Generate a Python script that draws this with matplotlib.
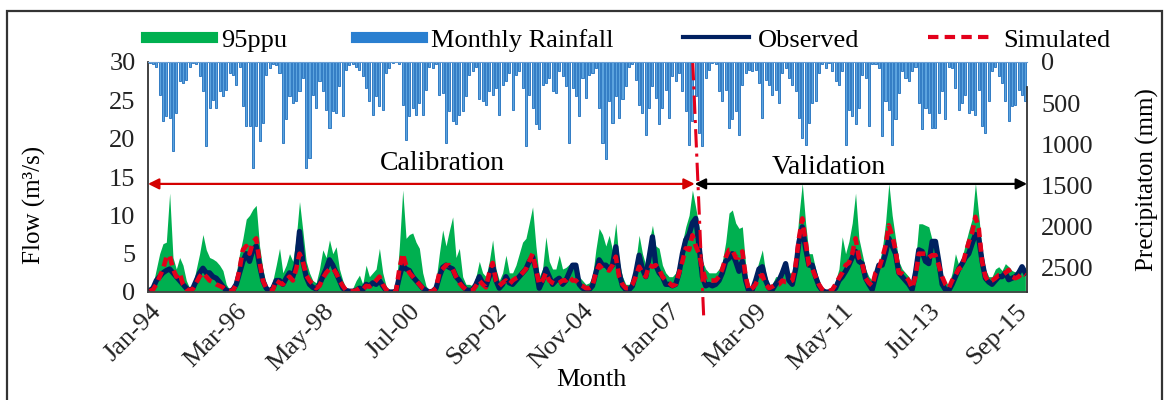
import numpy as np
import matplotlib.pyplot as plt
from matplotlib.lines import Line2D
from matplotlib.patches import Rectangle

plt.rcParams['font.family'] = ['Liberation Serif', 'DejaVu Serif']

# monthly rainfall (mm), Jan-1994 .. Dec-2015, one row per year
rain = [
    10, 20, 55, 400, 720, 660, 680, 1080, 620, 235, 255, 215,
    55, 15, 20, 175, 355, 1020, 560, 460, 560, 355, 420, 335,
    135, 155, 275, 55, 540, 780, 780, 1290, 780, 965, 740, 155,
    75, 30, 35, 135, 985, 700, 420, 500, 480, 355, 195, 1290,
    1165, 400, 560, 235, 355, 580, 800, 600, 620, 295, 660, 95,
    35, 20, 55, 100, 175, 315, 480, 640, 415, 540, 580, 135,
    75, 12, 5, 30, 520, 945, 660, 560, 640, 500, 640, 335,
    55, 75, 30, 400, 375, 985, 600, 720, 760, 640, 600, 415,
    155, 115, 55, 455, 480, 520, 355, 400, 315, 640, 275, 235,
    135, 580, 155, 115, 315, 1025, 400, 560, 760, 820, 275, 255,
    195, 355, 375, 115, 175, 295, 985, 315, 415, 660, 195, 435,
    155, 135, 75, 560, 985, 1185, 480, 740, 415, 680, 455, 295,
    55, 30, 215, 520, 620, 885, 560, 295, 435, 760, 560, 335,
    680, 175, 235, 135, 355, 600, 1005, 720, 415, 860, 1025, 195,
    95, 12, 30, 355, 480, 335, 800, 700, 600, 885, 275, 135,
    95, 115, 95, 255, 680, 215, 275, 400, 335, 500, 135, 75,
    195, 275, 355, 680, 920, 1005, 740, 500, 480, 135, 30, 75,
    12, 115, 235, 275, 115, 1005, 580, 660, 760, 560, 155, 195,
    780, 30, 30, 75, 905, 480, 580, 1005, 700, 375, 115, 195,
    235, 115, 55, 500, 820, 560, 620, 800, 800, 620, 355, 700,
    55, 75, 315, 580, 500, 400, 620, 580, 640, 335, 780, 860,
    480, 115, 55, 175, 255, 480, 720, 540, 520, 335, 400, 480,
]

# observed discharge (m3/s)
observed = [
    0.2, 0.5, 1.5, 2.0, 2.5, 2.8, 3.0, 2.5, 2.0, 1.5, 1.0, 0.5,
    0.2, 0.5, 1.5, 2.5, 3.1, 2.5, 2.5, 2.0, 1.8, 1.3, 0.7, 0.2,
    0.1, 0.3, 1.0, 2.5, 4.0, 5.0, 4.0, 5.5, 6.0, 3.5, 1.5, 0.5,
    0.1, 0.5, 1.5, 1.5, 1.0, 1.8, 2.5, 2.0, 3.5, 7.9, 4.0, 2.0,
    1.0, 0.6, 0.4, 1.0, 2.0, 3.0, 4.2, 3.5, 2.5, 1.5, 0.5, 0.2,
    0.1, 0.1, 0.2, 0.5, 0.3, 1.0, 0.8, 1.2, 1.0, 1.5, 0.8, 0.2,
    0.0, 0.0, 0.1, 2.0, 3.5, 3.0, 2.8, 2.0, 1.5, 1.0, 0.5, 0.2,
    0.0, 0.1, 0.5, 2.0, 3.2, 3.5, 3.2, 3.0, 2.0, 1.5, 0.8, 0.3,
    0.2, 0.3, 1.0, 2.0, 1.2, 0.8, 2.0, 3.5, 1.5, 0.5, 1.0, 2.0,
    1.2, 1.0, 1.5, 2.0, 2.5, 3.0, 4.0, 4.6, 3.0, 0.5, 1.5, 3.0,
    2.0, 1.0, 1.5, 1.8, 1.0, 1.5, 2.5, 3.5, 3.5, 1.0, 0.5, 0.3,
    0.3, 0.8, 2.5, 4.2, 3.5, 3.5, 3.0, 3.5, 5.9, 2.5, 0.8, 0.3,
    0.3, 0.8, 2.5, 4.8, 3.0, 2.0, 4.5, 7.2, 3.5, 2.5, 2.0, 1.0,
    1.0, 0.8, 1.0, 2.5, 5.0, 6.8, 7.5, 9.0, 9.6, 6.0, 2.0, 0.8,
    1.0, 0.8, 1.0, 1.5, 2.5, 4.0, 4.4, 5.0, 4.0, 2.7, 4.0, 1.5,
    0.0, 0.3, 1.5, 3.0, 3.3, 1.5, 0.5, 0.3, 1.0, 1.5, 2.5, 3.7,
    1.5, 1.0, 3.0, 6.5, 8.5, 5.7, 3.5, 3.5, 2.0, 0.8, 0.2, 0.0,
    0.0, 0.2, 0.5, 1.5, 2.0, 2.7, 3.5, 4.5, 5.3, 4.0, 3.7, 1.8,
    1.0, 0.3, 2.0, 3.5, 3.5, 5.0, 7.0, 6.0, 5.0, 2.5, 2.0, 1.5,
    1.0, 0.3, 2.5, 5.5, 5.3, 4.0, 3.7, 6.6, 6.6, 4.0, 1.0, 0.3,
    0.2, 1.0, 2.0, 3.0, 3.7, 4.5, 5.0, 6.3, 7.5, 7.0, 4.0, 1.8,
    1.3, 1.0, 1.5, 2.0, 2.0, 2.5, 1.6, 1.8, 2.0, 2.5, 3.3, 2.5,
]

# simulated discharge (m3/s)
simulated = [
    0.1, 0.3, 1.0, 2.0, 3.0, 4.5, 4.8, 3.0, 2.0, 2.5, 1.0, 0.4,
    0.2, 0.4, 1.2, 2.0, 2.5, 2.0, 1.5, 1.3, 1.0, 0.8, 0.6, 0.2,
    0.1, 0.2, 1.0, 3.0, 5.5, 6.0, 5.0, 6.5, 7.0, 4.0, 1.5, 0.5,
    0.1, 0.3, 1.5, 1.2, 1.0, 1.5, 2.0, 1.5, 3.0, 5.0, 4.0, 2.2,
    1.5, 1.0, 0.5, 0.8, 1.8, 2.5, 3.0, 3.1, 2.5, 1.5, 0.8, 0.2,
    0.1, 0.1, 0.2, 0.5, 0.3, 0.8, 0.7, 1.0, 1.5, 2.0, 1.0, 0.3,
    0.0, 0.0, 0.1, 3.0, 5.0, 3.5, 2.5, 2.0, 1.5, 1.0, 0.5, 0.2,
    0.0, 0.1, 0.5, 2.5, 3.0, 3.5, 3.5, 3.0, 2.0, 1.2, 0.7, 0.3,
    0.2, 0.2, 0.8, 1.5, 1.0, 0.6, 2.5, 3.8, 1.5, 0.8, 1.2, 1.5,
    1.0, 1.5, 1.8, 2.0, 2.5, 3.0, 4.0, 5.0, 3.0, 1.0, 1.5, 2.5,
    1.5, 1.2, 1.0, 1.2, 1.5, 1.5, 2.0, 1.5, 1.5, 1.0, 0.8, 0.5,
    0.5, 0.8, 2.5, 3.5, 3.0, 3.0, 2.8, 3.5, 4.6, 2.0, 1.0, 0.5,
    0.5, 1.0, 2.0, 3.3, 2.5, 2.0, 3.5, 3.3, 3.5, 3.0, 2.0, 1.5,
    1.2, 0.8, 1.0, 2.5, 4.0, 5.7, 5.5, 7.4, 6.0, 5.0, 3.0, 1.5,
    1.5, 1.5, 1.5, 2.0, 3.0, 4.5, 5.5, 5.5, 4.5, 4.5, 5.3, 2.0,
    0.2, 0.5, 1.0, 2.0, 2.2, 1.0, 0.5, 0.7, 1.0, 1.0, 1.5, 1.3,
    1.3, 1.5, 3.5, 7.0, 9.6, 6.5, 3.5, 3.0, 2.0, 1.0, 0.3, 0.1,
    0.1, 0.3, 1.0, 1.8, 2.5, 3.5, 3.8, 5.0, 7.0, 4.5, 3.7, 1.8,
    1.2, 0.8, 2.5, 3.0, 4.4, 6.0, 8.7, 7.4, 5.5, 2.5, 2.4, 2.0,
    1.5, 0.5, 2.0, 5.0, 5.0, 5.0, 4.5, 4.8, 4.8, 3.5, 2.0, 1.0,
    0.5, 1.5, 2.2, 3.0, 3.3, 5.0, 6.5, 7.7, 9.8, 8.3, 4.0, 2.0,
    1.3, 1.5, 1.8, 2.2, 2.2, 2.5, 2.9, 2.0, 1.8, 2.0, 2.5, 2.2,
]

# upper limit of the 95PPU band (m3/s)
ppu_upper = [
    0.5, 1.0, 3.0, 5.0, 6.3, 6.5, 12.9, 4.5, 3.0, 4.5, 3.5, 1.5,
    0.5, 1.0, 3.0, 5.0, 7.5, 5.5, 4.5, 4.3, 4.0, 3.5, 2.8, 1.0,
    0.3, 0.8, 2.5, 5.0, 7.0, 9.5, 10.0, 10.8, 11.3, 6.0, 3.0, 1.0,
    0.3, 1.5, 3.5, 5.7, 2.5, 3.5, 5.0, 4.0, 7.0, 11.8, 8.0, 4.0,
    2.5, 1.5, 1.2, 3.0, 5.5, 4.5, 6.8, 5.0, 5.9, 3.0, 1.5, 0.5,
    0.3, 0.5, 1.5, 2.2, 1.0, 3.5, 2.0, 2.5, 3.0, 5.7, 2.5, 0.8,
    0.2, 0.2, 0.5, 6.0, 13.3, 7.0, 7.5, 7.7, 6.5, 5.7, 2.5, 0.8,
    0.2, 0.3, 1.5, 5.0, 8.1, 6.0, 8.0, 9.8, 4.5, 5.7, 2.0, 1.0,
    1.0, 0.8, 2.0, 4.0, 2.5, 2.0, 4.0, 6.8, 3.0, 1.5, 2.5, 4.8,
    2.5, 2.5, 3.5, 5.0, 6.5, 7.0, 9.0, 11.1, 6.0, 2.0, 3.0, 7.2,
    4.0, 3.0, 3.0, 4.8, 3.0, 3.2, 3.6, 3.6, 3.5, 2.0, 1.5, 1.0,
    1.2, 2.0, 5.5, 8.3, 7.5, 6.0, 7.4, 5.5, 9.0, 4.0, 2.0, 1.0,
    1.0, 2.0, 4.0, 7.4, 5.0, 3.5, 6.5, 8.7, 6.0, 5.7, 3.5, 2.5,
    2.0, 2.0, 2.5, 4.0, 6.5, 8.5, 10.0, 13.3, 11.0, 8.5, 4.0, 3.0,
    2.5, 2.5, 2.5, 3.0, 4.0, 6.5, 10.3, 10.7, 9.0, 8.3, 8.5, 3.5,
    0.5, 1.0, 2.5, 4.0, 5.5, 2.5, 1.0, 1.0, 2.0, 2.0, 3.0, 4.0,
    2.5, 2.5, 5.0, 10.0, 14.2, 9.0, 5.0, 5.0, 3.0, 1.5, 0.5, 0.3,
    0.3, 0.5, 1.5, 3.0, 7.2, 5.0, 6.6, 9.0, 12.9, 7.0, 5.0, 3.0,
    2.0, 1.5, 3.0, 3.7, 5.5, 9.0, 14.2, 10.0, 7.0, 4.0, 3.0, 2.5,
    2.0, 1.0, 4.0, 8.9, 8.9, 8.7, 8.5, 6.8, 6.0, 4.5, 2.5, 1.3,
    1.0, 2.5, 5.0, 3.5, 4.5, 6.3, 8.0, 9.5, 14.2, 10.0, 5.5, 3.0,
    2.0, 2.0, 3.0, 3.3, 2.8, 3.7, 3.3, 2.8, 2.6, 3.0, 3.5, 3.0,
]

tick_labels = ['Jan-94', 'Mar-96', 'May-98', 'Jul-00', 'Sep-02', 'Nov-04',
               'Jan-07', 'Mar-09', 'May-11', 'Jul-13', 'Sep-15']
tick_step = 26          # months between labels
split_top = 163.1       # calibration / validation divider (month index)
split_bottom = 166.4
arrow_flow = 14.1

months = np.arange(len(observed))

GREEN = '#00b050'
NAVY = '#002060'
RED = '#e3001b'

fig = plt.figure(figsize=(11.7, 4.0), dpi=100)
ax = fig.add_axes([0.1265, 0.27, 0.7513, 0.575])

ax.fill_between(months, 0, ppu_upper, color=GREEN, lw=0)
ax.plot(months, observed, color=NAVY, lw=3.8)
ax.plot(months, simulated, color=RED, lw=3.3, ls=(0, (2.0, 1.2)))

ax.set_xlim(-0.5, len(months) - 0.5)
ax.set_ylim(0, 30)
ax.set_yticks(range(0, 31, 5))
ax.set_xticks(months[::tick_step])
ax.set_xticklabels(tick_labels, rotation=45, ha='right', rotation_mode='anchor')
ax.tick_params(length=0, labelsize=19, colors='#222222')
ax.tick_params(axis='y', pad=9)
ax.tick_params(axis='x', pad=6)
ax.set_xlabel('Month', fontsize=19, va='center')
ax.xaxis.set_label_coords(0.504, -0.383)
ax.set_ylabel('Flow (m³/s)', fontsize=18, va='center')
ax.yaxis.set_label_coords(-0.129, 0.378)
for side in ['top', 'right']:
    ax.spines[side].set_visible(False)
ax.spines['left'].set_color('#333333')
ax.spines['bottom'].set_color('#444444')
ax.spines['left'].set_linewidth(1.3)
ax.spines['bottom'].set_linewidth(1.3)

# rainfall hangs from the top on an inverted secondary axis
ax2 = ax.twinx()
ax2.bar(months, rain, width=0.62, color='#5ca3de', edgecolor='#1e6fbe', lw=0.6)
ax2.set_ylim(2800, 0)
ax2.set_yticks(range(0, 2501, 500))
ax2.tick_params(length=0, labelsize=19, pad=10, colors='#222222')
ax2.set_ylabel('Precipitaton (mm)', fontsize=18, va='center')
ax2.yaxis.set_label_coords(1.137, 0.487)
ax2.spines['left'].set_visible(False)
ax2.spines['bottom'].set_visible(False)
ax2.spines['top'].set_color('#6a9fd4')
ax2.spines['right'].set_color('#333333')
ax2.spines['right'].set_linewidth(1.3)
ax2.spines['right'].set_bounds(2800, 300)

# calibration / validation markers
ax2.annotate('', xy=(-0.5, arrow_flow), xytext=(split_top + 0.6, arrow_flow),
             xycoords=ax.transData, textcoords=ax.transData,
             arrowprops=dict(arrowstyle='<|-|>', color='#d40000', lw=1.6,
                             mutation_scale=16, shrinkA=0, shrinkB=0))
ax2.annotate('', xy=(split_top + 0.6, arrow_flow), xytext=(len(months) - 0.5, arrow_flow),
             xycoords=ax.transData, textcoords=ax.transData,
             arrowprops=dict(arrowstyle='<|-|>', color='black', lw=1.6,
                             mutation_scale=16, shrinkA=0, shrinkB=0))
ax2.plot([split_top, split_bottom], [30, -3.3], transform=ax.transData,
         color=RED, lw=2.2, ls=(0, (6, 2, 1, 2)), clip_on=False)
ax2.text(87.8, 16.8, 'Calibration', transform=ax.transData,
         ha='center', va='center', fontsize=20)
ax2.text(204, 16.2, 'Validation', transform=ax.transData,
         ha='center', va='center', fontsize=20)

handles = [Line2D([], [], color=GREEN, lw=8),
           Line2D([], [], color='#2a7fd0', lw=8),
           Line2D([], [], color=NAVY, lw=3),
           Line2D([], [], color=RED, lw=3, ls=(0, (2.5, 1.5)))]
labels = ['95ppu', 'Monthly Rainfall', 'Observed', 'Simulated']
fig.legend(handles, labels, loc='center', bbox_to_anchor=(0.537, 0.9), ncol=4,
           frameon=False, fontsize=19, handlelength=2.5, handletextpad=0.35,
           columnspacing=2.6, borderpad=0)

# border around the whole figure
fig.patches.append(Rectangle((7 / 1170, -0.05), 1155 / 1170, 1 - 11 / 400 + 0.05,
                             transform=fig.transFigure, fill=False,
                             ec='#333333', lw=1.6))

fig.savefig('out.png', dpi=100)
